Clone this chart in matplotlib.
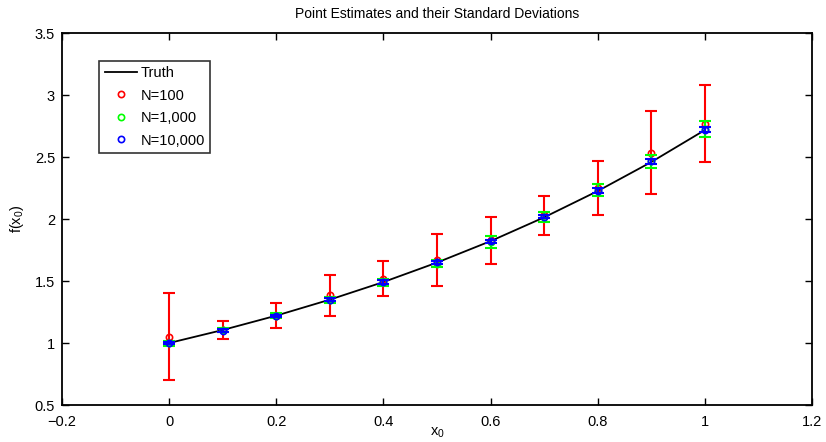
import matplotlib
matplotlib.use('Agg')
import matplotlib.pyplot as plt
import numpy as np

plt.rcParams['font.family'] = ['Liberation Sans', 'DejaVu Sans']
plt.rcParams['mathtext.fontset'] = 'custom'
plt.rcParams['mathtext.rm'] = 'Liberation Sans'
plt.rcParams['mathtext.it'] = 'Liberation Sans'

x0 = [0.0, 0.1, 0.2, 0.3, 0.4, 0.5, 0.6, 0.7, 0.8, 0.9, 1.0]
truth = [1.0, 1.105, 1.221, 1.350, 1.492, 1.649, 1.822, 2.014, 2.226, 2.460, 2.718]

mean_100 = [1.05, 1.105, 1.22, 1.385, 1.52, 1.67, 1.83, 2.03, 2.25, 2.535, 2.77]
std_100 = [0.35, 0.075, 0.10, 0.165, 0.14, 0.21, 0.19, 0.16, 0.22, 0.335, 0.31]

mean_1000 = [1.0, 1.105, 1.22, 1.35, 1.49, 1.64, 1.815, 2.02, 2.235, 2.465, 2.725]
std_1000 = [0.02, 0.02, 0.02, 0.025, 0.03, 0.03, 0.045, 0.04, 0.045, 0.055, 0.065]

mean_10000 = [1.0, 1.10, 1.22, 1.35, 1.49, 1.65, 1.82, 2.02, 2.23, 2.465, 2.72]
std_10000 = [0.01, 0.01, 0.01, 0.01, 0.015, 0.015, 0.015, 0.015, 0.02, 0.02, 0.02]

fig = plt.figure(figsize=(8.26, 4.42), dpi=100)
ax = fig.add_axes([0.075, 0.0837, 0.908, 0.8413])

ax.plot(x0, truth, color='black', lw=1.3, label='Truth', zorder=2)

series = [(mean_100, std_100, (1, 0, 0), 'N=100'),
          (mean_1000, std_1000, (0, 1, 0), 'N=1,000'),
          (mean_10000, std_10000, (0, 0, 1), 'N=10,000')]
for i, (m, s, c, lab) in enumerate(series):
    ax.errorbar(x0, m, yerr=s, fmt='none', ecolor=c, elinewidth=1.5,
                capsize=4, capthick=1.5, zorder=3 + i)
    ax.plot(x0, m, 'o', mfc='none', mec=c, ms=4.5, mew=1.2, label=lab,
            zorder=3 + i)

ax.set_xlim(-0.2, 1.2)
ax.set_ylim(0.5, 3.5)
ax.set_xticks(np.arange(-0.2, 1.21, 0.2))
ax.set_xticklabels(['\u22120.2', '0', '0.2', '0.4', '0.6', '0.8', '1', '1.2'])
ax.set_yticks(np.arange(0.5, 3.51, 0.5))
ax.set_yticklabels(['0.5', '1', '1.5', '2', '2.5', '3', '3.5'])
ax.tick_params(direction='in', length=5, width=1, labelsize=10.5, top=True, right=True)
ax.tick_params(axis='x', pad=7)
ax.tick_params(axis='y', pad=5)
for sp in ax.spines.values():
    sp.set_linewidth(1.3)

ax.set_title('Point Estimates and their Standard Deviations', fontsize=10, pad=11)
ax.set_xlabel('x$_0$', fontsize=10.5, labelpad=-2)
ax.set_ylabel('f(x$_0$)', fontsize=10.5, labelpad=6)

leg = ax.legend(loc='upper left', bbox_to_anchor=(0.05, 0.925), fontsize=10.5,
                frameon=True, fancybox=False, edgecolor='black', handlelength=2.2,
                borderpad=0.35, labelspacing=0.58, handletextpad=0.3, borderaxespad=0)
leg.get_frame().set_linewidth(1.2)

fig.savefig('out.png', dpi=100)
